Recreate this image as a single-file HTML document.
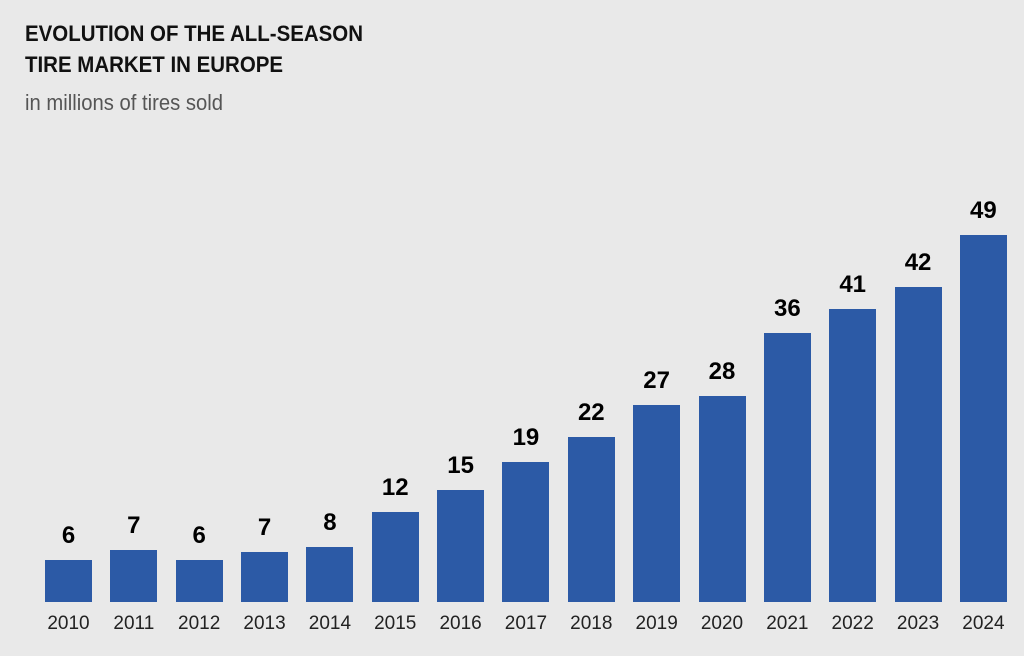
<!DOCTYPE html>
<html><head><meta charset="utf-8"><style>
body{margin:0;width:1024px;height:656px;background:#e9e9e9;position:relative;overflow:hidden;font-family:"Liberation Sans",sans-serif}
.t{position:absolute;left:25px;top:18px;font-weight:bold;font-size:22px;line-height:31px;color:#111;transform:scaleX(0.93);transform-origin:left top}
.s{position:absolute;left:25px;top:90px;font-size:22px;color:#555;transform:scaleX(0.92);transform-origin:left top}
.b{position:absolute;width:47px;background:#2c5aa6;bottom:54px}
.v{position:absolute;width:80px;text-align:center;font-weight:bold;font-size:24px;color:#000}
.y{position:absolute;width:80px;text-align:center;font-size:19px;color:#222;top:613px}
</style></head><body>
<div class="t">EVOLUTION OF THE ALL-SEASON<br>TIRE MARKET IN EUROPE</div>
<div class="s">in millions of tires sold</div>
<div id="c"></div>
<script>
var d=[[2010,6,560],[2011,7,550],[2012,6,560],[2013,7,552],[2014,8,547],[2015,12,512],[2016,15,490],[2017,19,462],[2018,22,437],[2019,27,405],[2020,28,396],[2021,36,333],[2022,41,309],[2023,42,287],[2024,49,235]];
var h="";d.forEach(function(e,i){var x=45+i*65.35;
h+='<div class="b" style="left:'+x+'px;top:'+e[2]+'px"></div>';
h+='<div class="v" style="left:'+(x-16.5)+'px;top:'+(e[2]-38)+'px">'+e[1]+'</div>';
h+='<div class="y" style="left:'+(x-16.5)+'px">'+e[0]+'</div>';});
document.getElementById("c").innerHTML=h;
</script>
</body></html>
